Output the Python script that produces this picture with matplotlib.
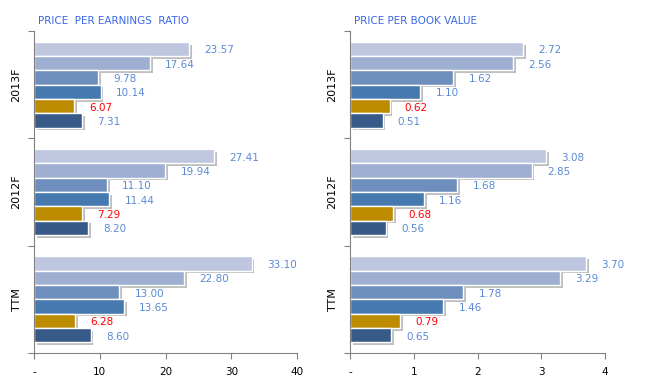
import matplotlib.pyplot as plt
import matplotlib.patheffects as pe
import numpy as np

# ----------------------------------
# Data (top group first).
periods = ["2013F", "2012F", "TTM"]

pe_2013f = [23.57, 17.64, 9.78, 10.14, 6.07, 7.31]
pe_2012f = [27.41, 19.94, 11.10, 11.44, 7.29, 8.20]
pe_ttm = [33.10, 22.80, 13.00, 13.65, 6.28, 8.60]

pb_2013f = [2.72, 2.56, 1.62, 1.10, 0.62, 0.51]
pb_2012f = [3.08, 2.85, 1.68, 1.16, 0.68, 0.56]
pb_ttm = [3.70, 3.29, 1.78, 1.46, 0.79, 0.65]

pe_ticks = [0, 10, 20, 30, 40]
pe_ticklabels = ["-", "10", "20", "30", "40"]
pb_ticks = [0, 1, 2, 3, 4]
pb_ticklabels = ["-", "1", "2", "3", "4"]

bar_colors = ["#BFC6DF", "#9FAFD1", "#6E8FBE", "#4679AF", "#BC8B00", "#375A88"]
label_colors = ["#5A8AD6"] * 4 + ["#FF0000", "#5A8AD6"]

# ----------------------------------
# Draw one panel of grouped horizontal bars.
def draw_panel(ax, groups, ticks, ticklabels, title, xmax, fmt):
    n_series = len(groups[0])
    bar_h = 0.8 / n_series
    shadow = [pe.SimplePatchShadow(offset=(2, -2), shadow_rgbFace="#707070", alpha=0.45),
              pe.Normal()]
    for g, values in enumerate(groups):
        top = 3 - g - 0.1
        for i, v in enumerate(values):
            y = top - (i + 0.5) * bar_h
            ax.barh(y, v, height=bar_h, color=bar_colors[i], edgecolor="white",
                    linewidth=1.0, path_effects=shadow, zorder=2)
            ax.annotate(fmt.format(v), (v, y), xytext=(11, -1), textcoords="offset points",
                        ha="left", va="center", fontsize=7.5, color=label_colors[i])

    ax.set_xlim(0, xmax)
    ax.set_ylim(0, 3)
    ax.set_xticks(ticks)
    ax.set_xticklabels(ticklabels, fontsize=7.5)
    ax.set_yticks([0, 1, 2, 3])
    ax.set_yticklabels([])
    ax.set_yticks([2.5, 1.5, 0.5], minor=True)
    ax.set_yticklabels(periods, minor=True, rotation=90, va="center", fontsize=8)
    ax.tick_params(axis="y", which="minor", length=0, pad=9)
    ax.tick_params(axis="y", which="major", length=4, color="#808080")
    ax.tick_params(axis="x", length=4, color="#808080", pad=6)
    for side in ["top", "right"]:
        ax.spines[side].set_visible(False)
    for side in ["left", "bottom"]:
        ax.spines[side].set_color("#808080")
    ax.set_title(title, loc="left", fontsize=7.5, color="#3A66E8", pad=5, x=0.015)


fig = plt.figure(figsize=(6.46, 3.86), dpi=100)
ax1 = fig.add_axes([34 / 646, 1 - 353 / 386, (297 - 34) / 646, (353 - 31) / 386])
ax2 = fig.add_axes([350 / 646, 1 - 353 / 386, (605 - 350) / 646, (353 - 31) / 386])

draw_panel(ax1, [pe_2013f, pe_2012f, pe_ttm], pe_ticks, pe_ticklabels,
           "PRICE  PER EARNINGS  RATIO", 40, "{:.2f}")
draw_panel(ax2, [pb_2013f, pb_2012f, pb_ttm], pb_ticks, pb_ticklabels,
           "PRICE PER BOOK VALUE", 4, "{:.2f}")

fig.savefig("out.png", dpi=100)
